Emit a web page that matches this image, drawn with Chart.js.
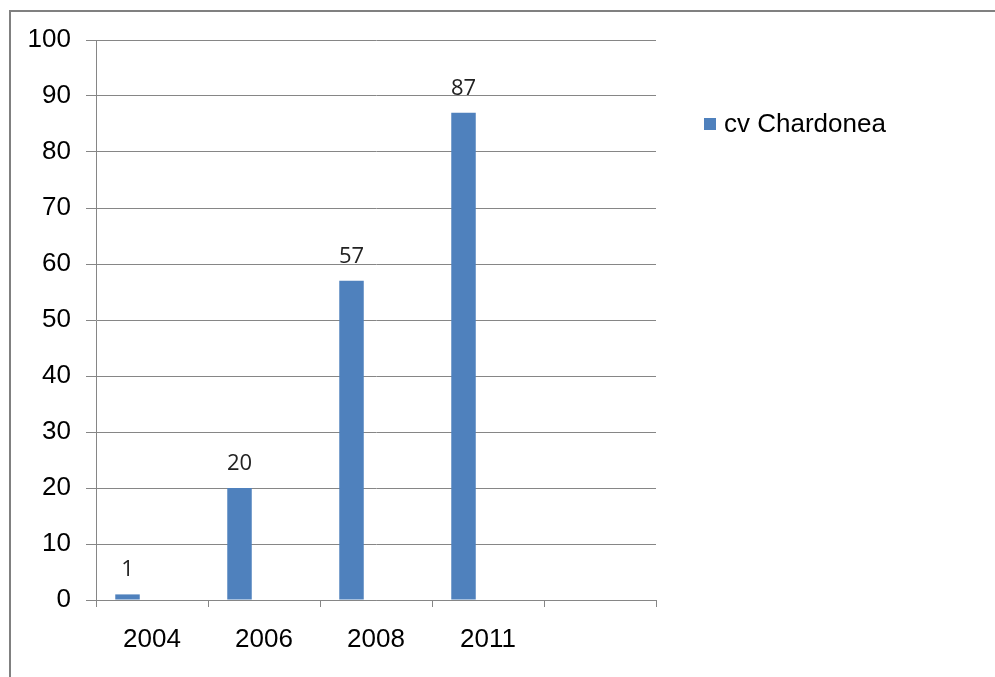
<!DOCTYPE html>
<html>
<head>
<meta charset="utf-8">
<script src="https://cdn.jsdelivr.net/npm/chart.js@4/dist/chart.umd.min.js"></script>
<style>
    body { margin: 0; background: #fff; }
    #frame {
        position: absolute; left: 9px; top: 10px; width: 1000px; height: 700px;
        border-left: 2px solid #808080; border-top: 2px solid #808080;
    }
    #wrap { position: absolute; left: 0; top: 0; width: 995px; height: 677px; }
</style>
</head>
<body>
<div id="frame"></div>
<div id="wrap"><canvas id="myChart"></canvas></div>
<script>
// chart data
const years = ['2004', '2006', '2008', '2011', ''];
const chardonea = [1, 20, 57, 87, null];
const emptySeries = [null, null, null, null, null];
const yTicks = [0, 10, 20, 30, 40, 50, 60, 70, 80, 90, 100];

const barColor = '#4f81bd';
const lineColor = '#868686';
const axisFont = '"Liberation Sans", Arial';

// value labels above the bars
const valueLabels = {
    id: 'valueLabels',
    afterDatasetsDraw(chart) {
        const ctx = chart.ctx;
        const meta = chart.getDatasetMeta(0);
        ctx.save();
        ctx.font = '22px "Open Sans"';
        ctx.fillStyle = '#222';
        ctx.textAlign = 'center';
        ctx.textBaseline = 'alphabetic';
        meta.data.forEach((bar, i) => {
            const v = chardonea[i];
            if (v == null) return;
            ctx.fillText(String(v), bar.x, bar.y - 18);
        });
        ctx.restore();
    }
};

// legend to the right of the plot
const sideLegend = {
    id: 'sideLegend',
    afterDraw(chart) {
        const ctx = chart.ctx;
        const area = chart.chartArea;
        const ds = chart.data.datasets[0];
        const x = area.right + 48;
        const y = area.top + 84;
        ctx.save();
        ctx.fillStyle = ds.backgroundColor;
        ctx.fillRect(x, y - 6, 12, 12);
        ctx.font = '26px ' + axisFont;
        ctx.fillStyle = '#000';
        ctx.textBaseline = 'middle';
        ctx.textAlign = 'left';
        ctx.fillText(ds.label, x + 20, y + 1);
        ctx.restore();
    }
};

const ctx = document.getElementById('myChart').getContext('2d');
new Chart(ctx, {
    type: 'bar',
    data: {
        labels: years,
        datasets: [
            { label: 'cv Chardonea', data: chardonea, backgroundColor: barColor },
            { label: '', data: emptySeries, backgroundColor: barColor },
            { label: '', data: emptySeries, backgroundColor: barColor }
        ]
    },
    options: {
        responsive: true,
        maintainAspectRatio: false,
        animation: false,
        categoryPercentage: 0.656,
        barPercentage: 1,
        layout: { padding: { left: 0, top: 40, right: 339, bottom: 0 } },
        plugins: {
            legend: { display: false },
            tooltip: { enabled: false }
        },
        scales: {
            x: {
                grid: {
                    offset: true,
                    drawOnChartArea: false,
                    drawTicks: true,
                    tickLength: 7,
                    color: lineColor,
                    lineWidth: 1
                },
                border: { color: lineColor, width: 1 },
                ticks: {
                    color: '#000',
                    font: { family: axisFont, size: 26 },
                    padding: 17,
                    maxRotation: 0
                },
                afterFit: (scale) => { scale.height = 77; }
            },
            y: {
                min: 0,
                max: 100,
                afterBuildTicks: (scale) => {
                    scale.ticks = yTicks.map(v => ({ value: v }));
                },
                grid: {
                    color: lineColor,
                    lineWidth: 1,
                    tickLength: 10
                },
                border: { color: lineColor, width: 1 },
                ticks: {
                    color: '#000',
                    font: { family: axisFont, size: 26 },
                    padding: 15
                },
                afterFit: (scale) => { scale.width = 96; }
            }
        }
    },
    plugins: [valueLabels, sideLegend]
});
</script>
</body>
</html>
